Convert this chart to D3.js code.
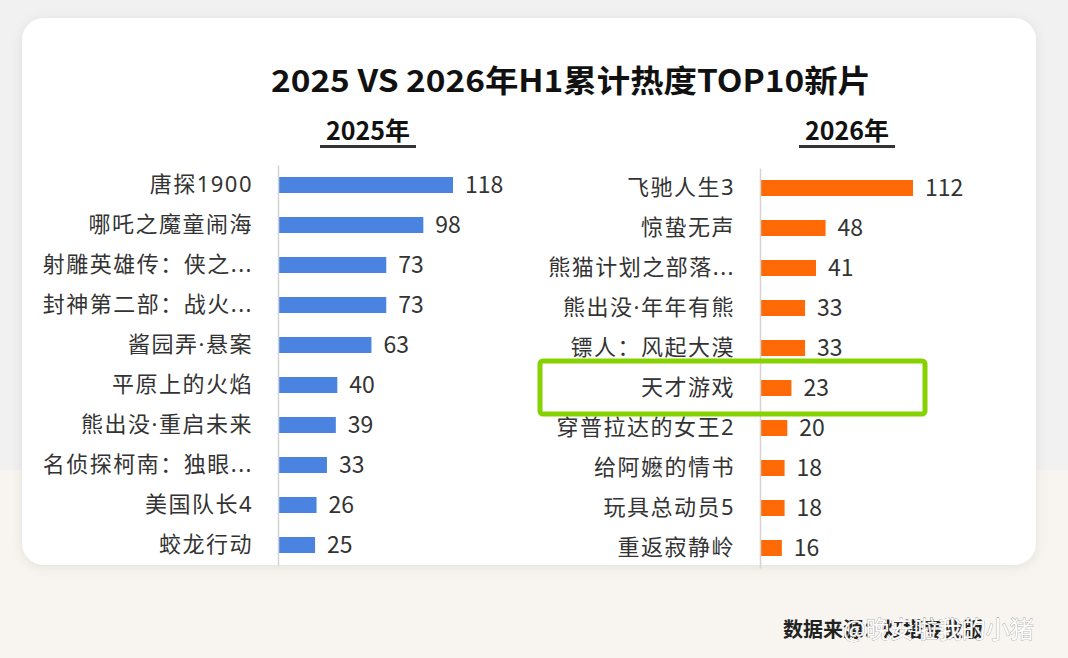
<!DOCTYPE html>
<html>
<head>
<meta charset="utf-8">
<script src="https://cdn.jsdelivr.net/npm/d3@7"></script>
<style>
  html, body { margin: 0; padding: 0; background: #f1f1f1; }
  svg { display: block; font-family: "Noto Sans CJK SC", "Noto Sans", sans-serif; }
</style>
</head>
<body>
<div class="o"></div>
<script>
const width = 1068, height = 658

// 2025 H1 top 10
const films2025 = ["唐探1900", "哪吒之魔童闹海", "射雕英雄传：侠之...", "封神第二部：战火...", "酱园弄·悬案",
  "平原上的火焰", "熊出没·重启未来", "名侦探柯南：独眼...", "美国队长4", "蛟龙行动"]
const heat2025 = [118, 98, 73, 73, 63, 40, 39, 33, 26, 25]

// 2026 H1 top 10
const films2026 = ["飞驰人生3", "惊蛰无声", "熊猫计划之部落...", "熊出没·年年有熊", "镖人：风起大漠",
  "天才游戏", "穿普拉达的女王2", "给阿嬷的情书", "玩具总动员5", "重返寂静岭"]
const heat2026 = [112, 48, 41, 33, 33, 23, 20, 18, 18, 16]

const highlight2026 = "天才游戏"

const svg = d3.select(".o").append("svg")
  .attr("width", width)
  .attr("height", height)

const defs = svg.append("defs")
const shadow = defs.append("filter").attr("id", "shadow")
  .attr("x", "-5%").attr("y", "-5%").attr("width", "110%").attr("height", "115%")
shadow.append("feDropShadow")
  .attr("dx", 0).attr("dy", 2).attr("stdDeviation", 6)
  .attr("flood-color", "#000").attr("flood-opacity", 0.08)

// page background: grey on top, warm tone lower down
svg.append("rect").attr("width", width).attr("height", height).attr("fill", "#f1f1f1")
svg.append("rect").attr("x", 0).attr("y", 470).attr("width", width).attr("height", 188)
  .attr("fill", "#f8f5f0")

// card
svg.append("rect")
  .attr("x", 22).attr("y", 18).attr("width", 1014).attr("height", 547)
  .attr("rx", 22)
  .attr("fill", "#fff")
  .attr("filter", "url(#shadow)")

// titles
svg.append("text")
  .attr("x", 571).attr("y", 92)
  .attr("text-anchor", "middle")
  .attr("font-size", 31).attr("font-weight", 700)
  .attr("fill", "#111")
  .attr("textLength", 600).attr("lengthAdjust", "spacingAndGlyphs")
  .text("2025 VS 2026年H1累计热度TOP10新片")

const subTitle = (x, label) => {
  svg.append("text")
    .attr("x", x).attr("y", 140)
    .attr("text-anchor", "middle")
    .attr("font-size", 25).attr("font-weight", 700)
    .attr("fill", "#111")
    .text(label)
  svg.append("rect")
    .attr("x", x - 48).attr("y", 145).attr("width", 96).attr("height", 3)
    .attr("fill", "#333")
}
subTitle(368, "2025年")
subTitle(847, "2026年")

const drawPanel = function({films, values, axisX, maxX, top, color}) {
  const y = d3.scaleBand()
    .domain(films)
    .range([top, top + 400])
    .paddingInner(0.6)
    .paddingOuter(0.3)

  const x = d3.scaleLinear()
    .domain([0, d3.max(values)])
    .range([axisX, maxX])

  const g = svg.append("g")
  const data = films.map((f, i) => ({film: f, value: values[i]}))

  g.selectAll("rect.bar")
    .data(data)
    .join("rect")
    .attr("class", "bar")
    .attr("x", x(0))
    .attr("y", d => y(d.film))
    .attr("width", d => x(d.value) - x(0))
    .attr("height", y.bandwidth())
    .attr("fill", color)

  g.selectAll("text.val")
    .data(data)
    .join("text")
    .attr("class", "val")
    .attr("x", d => x(d.value) + 12)
    .attr("y", d => y(d.film) + y.bandwidth() / 2)
    .attr("dy", "0.36em")
    .attr("font-size", 23)
    .attr("fill", "#333")
    .text(d => d.value)

  const axis = g.append("g")
    .attr("transform", `translate(${axisX},0)`)
    .call(d3.axisLeft(y).tickSize(0).tickPadding(25))
  axis.select(".domain").attr("stroke", "#d4d4d4").attr("stroke-width", 1.5)
  // latin font first so the middle dot stays narrow
  axis.selectAll(".tick text")
    .attr("font-size", 22)
    .attr("letter-spacing", 1.5)
    .attr("fill", "#333")
    .attr("font-family", "\"Noto Sans\", \"Noto Sans CJK SC\", sans-serif")
  return {x, y}
}

drawPanel({films: films2025, values: heat2025, axisX: 278, maxX: 453, top: 165, color: "#4a84e0"})
const right = drawPanel({films: films2026, values: heat2026, axisX: 760, maxX: 913, top: 168, color: "#ff6a06"})

// highlight box round 天才游戏
const hy = right.y(highlight2026) + right.y.bandwidth() / 2
svg.append("rect")
  .attr("x", 540).attr("y", hy - 27)
  .attr("width", 385).attr("height", 53)
  .attr("rx", 3)
  .attr("fill", "none")
  .attr("stroke", "#86d100")
  .attr("stroke-width", 5)

// source + watermark
svg.append("text")
  .attr("x", 783).attr("y", 637)
  .attr("font-size", 20).attr("font-weight", 700)
  .attr("fill", "#222")
  .text("数据来源：灯塔专业版")

svg.append("text")
  .attr("x", 843).attr("y", 638)
  .attr("font-size", 24)
  .attr("fill", "#fff")
  .attr("stroke", "#888").attr("stroke-width", 0.6)
  .attr("paint-order", "stroke")
  .text("@晚安啦我的小猪")
</script>
</body>
</html>
